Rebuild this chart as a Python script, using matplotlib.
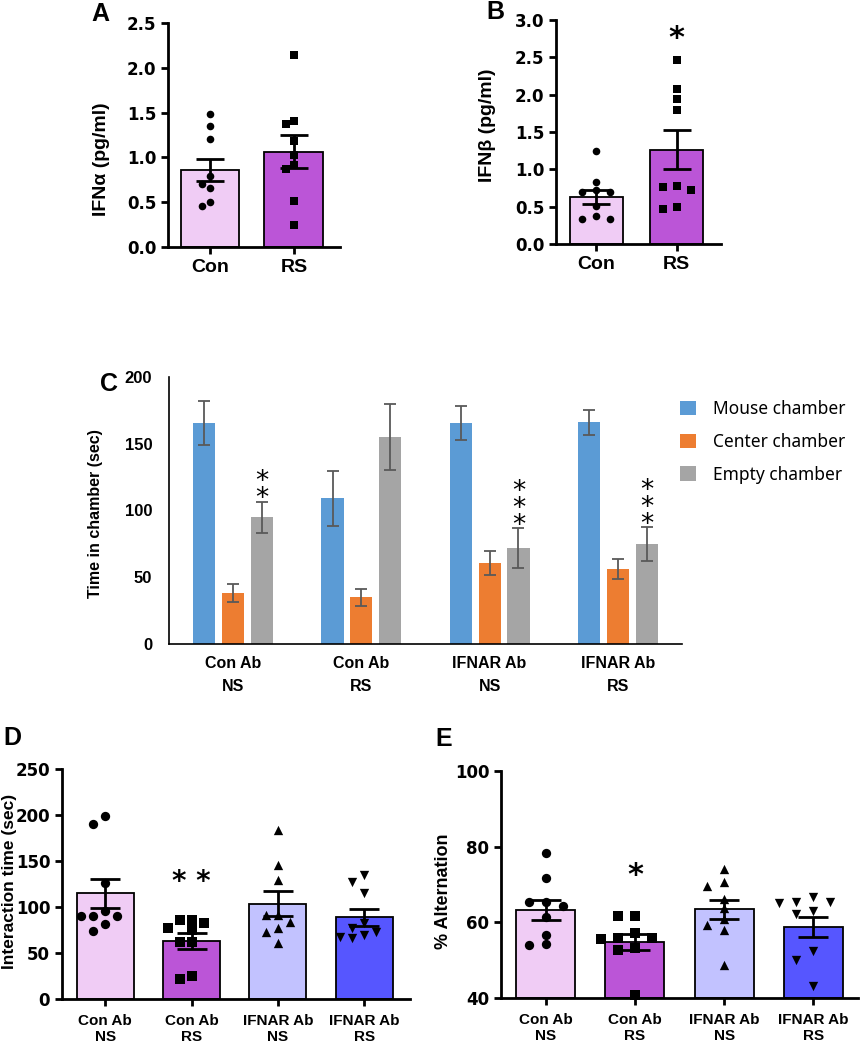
import numpy as np
import matplotlib
matplotlib.use("Agg")
import matplotlib.pyplot as plt

# ---- data ----
ab_groups = ["Con", "RS"]
ab_colors = ["#F0CCF5", "#BB55D7"]

ifna_means = [0.86, 1.065]
ifna_sems = [0.125, 0.18]
ifna_con = [1.48, 1.35, 1.20, 0.79, 0.70, 0.66, 0.50, 0.46]
ifna_rs = [2.14, 1.41, 1.37, 1.18, 1.03, 0.92, 0.87, 0.51, 0.24]

ifnb_means = [0.635, 1.265]
ifnb_sems = [0.093, 0.265]
ifnb_con = [1.245, 0.835, 0.72, 0.69, 0.69, 0.51, 0.37, 0.34, 0.335]
ifnb_rs = [2.46, 2.07, 1.94, 1.80, 0.78, 0.76, 0.72, 0.49, 0.47]
ifnb_star = [None, 2.84]

groups4 = ["Con Ab\nNS", "Con Ab\nRS", "IFNAR Ab\nNS", "IFNAR Ab\nRS"]
colors4 = ["#F0CCF5", "#BB55D7", "#C2C2FF", "#5656FF"]
markers4 = ["o", "s", "^", "v"]

# three-chamber test
chambers = ["Mouse chamber", "Center chamber", "Empty chamber"]
chamber_colors = ["#5B9BD5", "#ED7D31", "#A5A5A5"]
mouse_time = [165.5, 109, 165.5, 166]
mouse_err = [16.3, 20.8, 12.9, 9.3]
center_time = [38, 35, 60.5, 56.5]
center_err = [6.8, 6.5, 9, 7.5]
empty_time = [95, 155, 72, 75]
empty_err = [11.5, 25, 15, 12.5]
c_stars = [2, 0, 3, 3]

# interaction time
int_means = [114.7, 63.3, 103.8, 88.6]
int_sems = [15.5, 8.5, 13.5, 9.3]
int_pts = [
    [199, 190, 126, 96, 90, 90, 90, 82, 74],
    [86, 86, 82.6, 77, 75, 62, 62, 25, 21.7],
    [184, 146, 129, 91, 91, 83.7, 77, 73, 61],
    [135, 127.7, 115, 82.6, 77, 73, 69.6, 67.4, 66],
]
int_star = [None, 135, None, None]

# % alternation
alt_means = [63.3, 54.8, 63.4, 58.7]
alt_sems = [2.65, 2.0, 2.6, 2.7]
alt_pts = [
    [78.3, 71.8, 65.3, 65.3, 64.2, 61.4, 56.7, 54.3, 54.1],
    [61.7, 61.7, 57.1, 55.8, 55.8, 55.6, 53.2, 52.8, 40.9],
    [74.1, 70.6, 69.6, 66.2, 63.7, 60.8, 59.2, 58.0, 48.7],
    [66.8, 65.5, 65.3, 65.1, 62.9, 62.3, 52.3, 50.1, 43.1],
]
alt_star = [None, 74.3, None, None]

W, H = 860, 1050
fig = plt.figure(figsize=(W / 100, H / 100), dpi=100)

LAB = "Liberation Sans"
NUM = "DejaVu Sans"
LEG = "Noto Sans"


def px_axes(l, t, r, b):
    return fig.add_axes([l / W, 1 - b / H, (r - l) / W, (b - t) / H])


def swarm(vals, ax, dx_px, dy_px):
    # simple beeswarm: spread overlapping points sideways
    pos = ax.get_position()
    ylo, yhi = ax.get_ylim()
    xlo, xhi = ax.get_xlim()
    y_scale = pos.height * H / (yhi - ylo)
    x_scale = pos.width * W / (xhi - xlo)
    placed = []
    offs = []
    for v in vals:
        for k in [0, -1, 1, -2, 2, -3, 3]:
            ok = all(abs(v - pv) * y_scale >= dy_px or abs(k - pk) >= 1
                     for pv, pk in placed)
            if ok:
                break
        placed.append((v, k))
        offs.append(k * dx_px / x_scale)
    return offs


def prism(ax, labels, means, sems, pts, colors, markers, ms, ylim, yticks,
          ylabel, xlim, width, base=0, dx_px=8, dy_px=8, xfs=14, yfs=12,
          capsize=10, lfs=13):
    x = np.arange(len(labels))
    ax.set_xlim(*xlim)
    ax.set_ylim(*ylim)
    ax.bar(x, np.array(means) - base, bottom=base, width=width, color=colors,
           edgecolor="black", linewidth=1.3, zorder=1)
    for i, vals in enumerate(pts):
        offs = swarm(vals, ax, dx_px, dy_px)
        ax.scatter(x[i] + np.array(offs), vals, marker=markers[i], s=ms,
                   color="black", zorder=2, clip_on=False, linewidths=0)
    ax.errorbar(x, means, yerr=sems, fmt="none", ecolor="black", elinewidth=2,
                capsize=capsize, capthick=2, zorder=3)
    for s in ["top", "right"]:
        ax.spines[s].set_visible(False)
    for s in ["left", "bottom"]:
        ax.spines[s].set_linewidth(2)
    ax.set_yticks(yticks)
    ax.tick_params(width=2, length=5, direction="out")
    ax.set_xticks(x)
    ax.set_xticklabels(labels, fontfamily=LAB, fontweight="bold",
                       fontsize=xfs, linespacing=1.2)
    for t in ax.get_yticklabels():
        t.set_fontfamily(NUM)
        t.set_fontweight("bold")
        t.set_fontsize(yfs)
    ax.set_ylabel(ylabel, fontfamily=LAB, fontweight="bold", fontsize=lfs)


def stars(ax, ys, text, fs):
    for i, y in enumerate(ys):
        if y is not None:
            ax.annotate(text, (i, y), xytext=(0, -7),
                        textcoords="offset pixels", ha="center", va="center",
                        fontsize=fs, fontfamily=NUM, fontweight="bold")


def letter(x, y, s):
    fig.text(x / W, 1 - y / H, s, fontsize=18, fontweight="bold",
             fontfamily=LAB, ha="center", va="center")


# ---- A ----
axA = px_axes(168, 23, 340, 247)
prism(axA, ab_groups, ifna_means, ifna_sems, [ifna_con, ifna_rs], ab_colors,
      ["o", "s"], 30, (0, 2.5), np.arange(0, 2.51, 0.5), "IFN\u03b1 (pg/ml)",
      (-0.5, 1.55), 0.7, dx_px=7.5, dy_px=9, lfs=14)
axA.yaxis.set_major_formatter(matplotlib.ticker.FormatStrFormatter("%.1f"))
axA.yaxis.set_label_coords(-0.34, 0.39)
letter(100, 14, "A")

# ---- B ----
axB = px_axes(556, 20, 721, 244)
prism(axB, ab_groups, ifnb_means, ifnb_sems, [ifnb_con, ifnb_rs], ab_colors,
      ["o", "s"], 30, (0, 3.0), np.arange(0, 3.01, 0.5), "IFN\u03b2 (pg/ml)",
      (-0.5, 1.55), 0.66, dx_px=14, dy_px=8, lfs=14)
axB.yaxis.set_major_formatter(matplotlib.ticker.FormatStrFormatter("%.1f"))
axB.yaxis.set_label_coords(-0.365, 0.53)
stars(axB, ifnb_star, "*", 22)
letter(495, 12, "B")

# ---- C ----
axC = px_axes(169, 377, 682, 644)
xc = np.arange(len(groups4))
bw, off = 0.172, 0.225
series = [(mouse_time, mouse_err), (center_time, center_err),
          (empty_time, empty_err)]
handles = []
for j, (vals, errs) in enumerate(series):
    h = axC.bar(xc + (j - 1) * off, vals, width=bw, color=chamber_colors[j],
                yerr=errs, error_kw=dict(ecolor="#595959", elinewidth=1.3,
                                         capsize=4, capthick=1.3),
                label=chambers[j])
    handles.append(h)
axC.set_xlim(-0.5, 3.5)
axC.set_ylim(0, 200)
axC.set_yticks(np.arange(0, 201, 50))
for s in ["top", "right"]:
    axC.spines[s].set_visible(False)
for s in ["left", "bottom"]:
    axC.spines[s].set_linewidth(1.2)
axC.tick_params(length=0)
axC.tick_params(axis="y", pad=12)
axC.tick_params(axis="x", pad=9)
axC.set_xticks(xc)
axC.set_xticklabels(groups4, fontfamily=LAB, fontweight="bold", fontsize=11.5,
                    linespacing=1.6)
for t in axC.get_yticklabels():
    t.set_fontfamily(LAB)
    t.set_fontweight("bold")
    t.set_fontsize(12)
axC.set_ylabel("Time in chamber (sec)", fontfamily=LAB, fontweight="bold",
               fontsize=11.5)
axC.yaxis.set_label_coords(-0.128, 0.49)
# stacked significance stars above the empty-chamber bars
for i, n in enumerate(c_stars):
    if n == 0:
        continue
    top = empty_time[i] + empty_err[i]
    axC.annotate("\n".join(["*"] * n), (i + off, top),
                 xytext=(0, 4 + 15 * (n - 1) / 2),
                 textcoords="offset pixels", ha="center", va="center",
                 fontsize=19, fontfamily=NUM, linespacing=0.56)
axC.legend(handles=handles, loc="upper left",
           bbox_to_anchor=(680 / W, 1 - 400 / H),
           bbox_transform=fig.transFigure, frameon=False, borderpad=0,
           borderaxespad=0, handlelength=0.9, handleheight=0.9,
           handletextpad=1.0, labelspacing=0.85,
           prop=dict(family=LEG, size=12.5))
letter(109, 384, "C")

# ---- D ----
axD = px_axes(62, 769, 410, 999)
prism(axD, groups4, int_means, int_sems, int_pts, colors4, markers4, 45,
      (0, 250), np.arange(0, 251, 50), "Interaction time (sec)",
      (-0.5, 3.53), 0.66, dx_px=12, dy_px=9, xfs=11, yfs=12, capsize=11,
      lfs=12.5)
axD.tick_params(axis="x", pad=6)
axD.yaxis.set_label_coords(-0.128, 0.51)
stars(axD, int_star, "* *", 20)
letter(12, 738, "D")

# ---- E ----
axE = px_axes(501, 771, 858, 998)
prism(axE, groups4, alt_means, alt_sems, alt_pts, colors4, markers4, 45,
      (40, 100), np.arange(40, 101, 20), "% Alternation",
      (-0.5, 3.5), 0.66, base=40, dx_px=17, dy_px=9, xfs=11, yfs=12,
      capsize=11, lfs=13)
axE.tick_params(axis="x", pad=6)
axE.yaxis.set_label_coords(-0.137, 0.47)
stars(axE, alt_star, "*", 22)
letter(444, 739, "E")

fig.savefig("out.png", dpi=100)
